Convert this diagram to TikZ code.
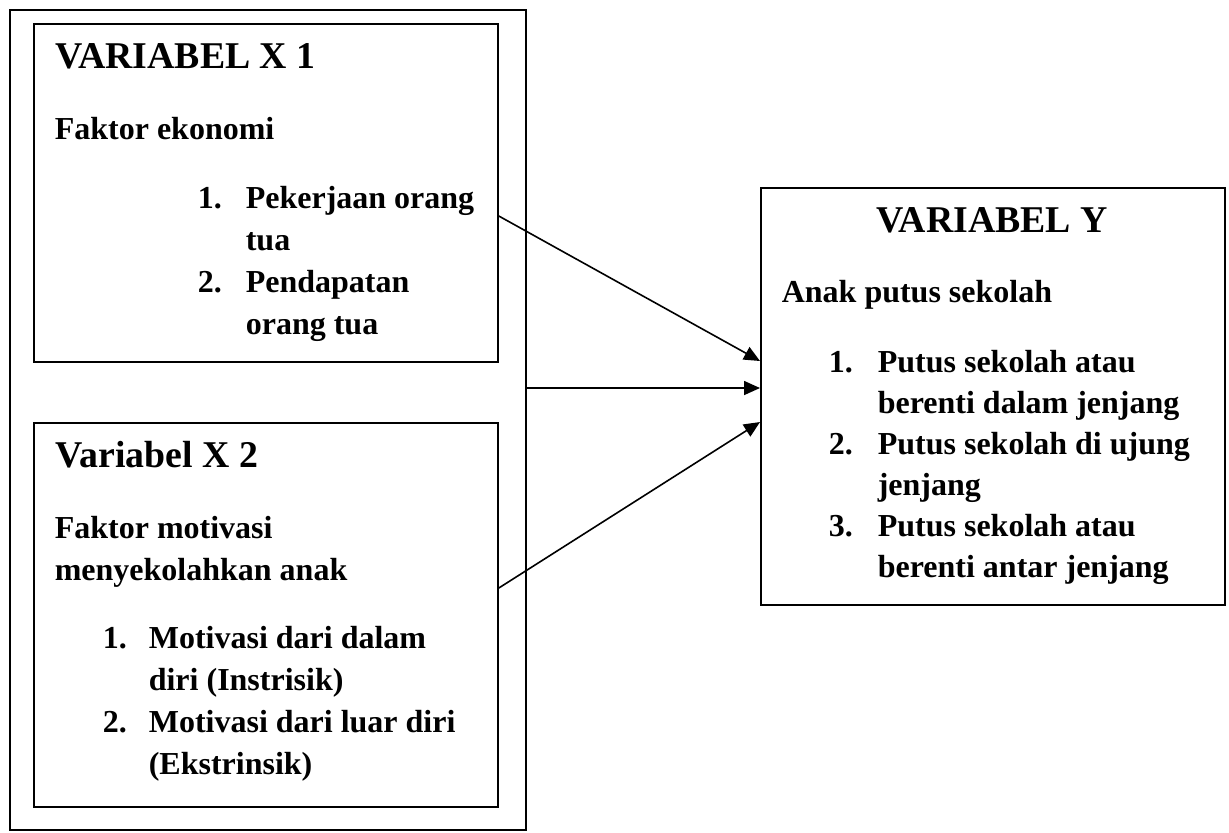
\documentclass[tikz,border=0pt]{standalone}
\usepackage{fontspec}
\setmainfont{Liberation Serif}
\usetikzlibrary{arrows.meta, positioning}

\begin{document}
\begin{tikzpicture}[x=0.5pt, y=-0.5pt, >={Triangle[length=8pt, width=7pt]}, line width=0.8pt,
    box/.style={draw, line width=0.9pt, inner sep=0pt, anchor=north west},
    head/.style={anchor=base west, inner sep=0pt, font=\fontsize{18.9}{22}\selectfont\bfseries},
    txt/.style={anchor=base west, inner sep=0pt, align=left, font=\fontsize{16}{21.2}\selectfont\bfseries},
    txttwo/.style={txt, yshift=-21.2pt},
    ytxt/.style={txt, font=\fontsize{16}{20.5}\selectfont\bfseries},
    ytxttwo/.style={ytxt, yshift=-20.5pt}]
    \useasboundingbox (0,0) rectangle (1229,832);

    % Boxes
    \node[box, minimum width=258pt, minimum height=410pt] (outer) at (9,9) {};
    \node[box, minimum width=232pt, minimum height=169pt] (x1box) at (33,23) {};
    \node[box, minimum width=232pt, minimum height=192pt] (x2box) at (33,422) {};
    \node[box, minimum width=232pt, minimum height=208.5pt] (ybox) at (760,187) {};

    % Variabel X 1
    \node[head] (x1head) at (55,68) {VARIABEL X 1};
    \node[txt] (x1sub) at (54,139) {Faktor ekonomi};
    \node[txt] (x1n1) at (197,208) {1.};
    \node[txttwo] (x1i1) at (245,208) {Pekerjaan orang\\tua};
    \node[txt] (x1n2) at (197,292) {2.};
    \node[txttwo] (x1i2) at (245,292) {Pendapatan\\orang tua};

    % Variabel X 2
    \node[head] (x2head) at (55,467) {Variabel X 2};
    \node[txttwo] (x2sub) at (54,538) {Faktor motivasi\\menyekolahkan anak};
    \node[txt] (x2n1) at (102,648) {1.};
    \node[txttwo] (x2i1) at (148,648) {Motivasi dari dalam\\diri (Instrisik)};
    \node[txt] (x2n2) at (102,732) {2.};
    \node[txttwo] (x2i2) at (148,732) {Motivasi dari luar diri\\(Ekstrinsik)};

    % Variabel Y
    \node[head, anchor=base] (yhead) at (992,232) {VARIABEL Y};
    \node[ytxt] (ysub) at (781,302) {Anak putus sekolah};
    \node[ytxt] (yn1) at (828,372) {1.};
    \node[ytxttwo] (yi1) at (877,372) {Putus sekolah atau\\berenti dalam jenjang};
    \node[ytxt] (yn2) at (828,454) {2.};
    \node[ytxttwo] (yi2) at (877,454) {Putus sekolah di ujung\\jenjang};
    \node[ytxt] (yn3) at (828,536) {3.};
    \node[ytxttwo] (yi3) at (877,536) {Putus sekolah atau\\berenti antar jenjang};

    % Arrows
    \draw[->] ([yshift=-96.5pt]x1box.north east) -- ([yshift=-87pt]ybox.north west);
    \draw[->] ([yshift=-189.5pt]outer.north east) -- ([yshift=-100.5pt]ybox.north west);
    \draw[->] ([yshift=-83pt]x2box.north east) -- ([yshift=-117.5pt]ybox.north west);
\end{tikzpicture}
\end{document}
